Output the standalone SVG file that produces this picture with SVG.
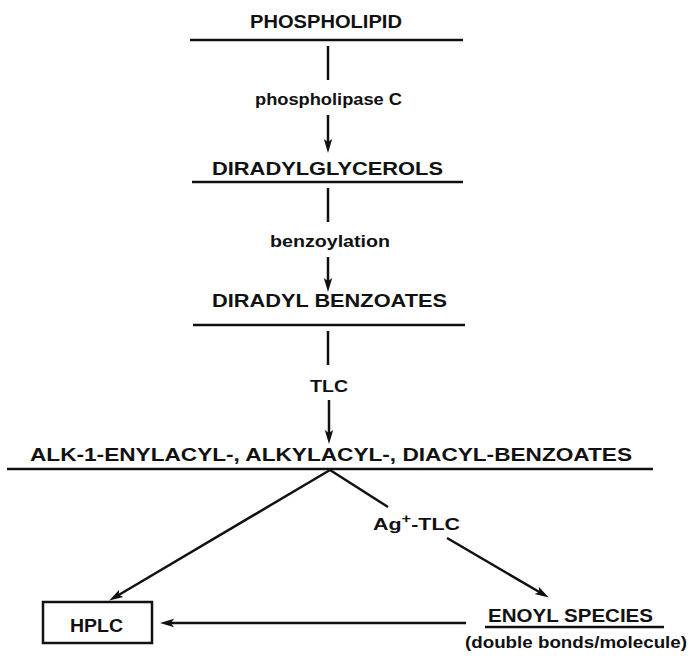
<svg xmlns="http://www.w3.org/2000/svg" width="690" height="656" viewBox="0 0 690 656">
<style>
text{font-family:"Liberation Sans",Arial,sans-serif;font-weight:bold;fill:#111;}
.big{font-size:18px;}
.small{font-size:16px;}
.ln{stroke:#111;stroke-width:2.5;fill:none;}
.arr{marker-end:url(#ah);}
</style>
<defs>
<marker id="ah" markerUnits="userSpaceOnUse" markerWidth="15" markerHeight="10" viewBox="0 0 15 10" refX="5" refY="5" orient="auto">
<path d="M0,0.8 L14,5 L0,9.2 L3,5 z" fill="#111"/>
</marker>
</defs>
<rect width="690" height="656" fill="#fff"/>
<g id="phospholipid">
<text class="big" x="250" y="28" textLength="152" lengthAdjust="spacingAndGlyphs">PHOSPHOLIPID</text>
<line class="ln" x1="190" y1="40" x2="463" y2="40"/>
</g>
<g id="diradylglycerols">
<text class="big" x="212" y="175" textLength="231" lengthAdjust="spacingAndGlyphs">DIRADYLGLYCEROLS</text>
<line class="ln" x1="192" y1="182" x2="463" y2="182"/>
</g>
<g id="diradyl-benzoates">
<text class="big" x="212" y="307" textLength="235" lengthAdjust="spacingAndGlyphs">DIRADYL BENZOATES</text>
<line class="ln" x1="193" y1="325" x2="465" y2="325"/>
</g>
<g id="benzoates-mix">
<text class="big" x="30" y="461" textLength="602" lengthAdjust="spacingAndGlyphs">ALK-1-ENYLACYL-, ALKYLACYL-, DIACYL-BENZOATES</text>
<line class="ln" x1="7" y1="469" x2="653" y2="469"/>
</g>
<g id="hplc">
<rect x="43" y="602" width="109" height="41" fill="none" stroke="#111" stroke-width="2.5"/>
<text class="big" x="70" y="632" textLength="53" lengthAdjust="spacingAndGlyphs">HPLC</text>
</g>
<g id="enoyl-species">
<text class="big" x="488" y="622" textLength="165" lengthAdjust="spacingAndGlyphs">ENOYL SPECIES</text>
<line class="ln" x1="485" y1="627" x2="664" y2="627"/>
<text class="small" x="465" y="648" textLength="222" lengthAdjust="spacingAndGlyphs">(double bonds/molecule)</text>
</g>
<g id="connectors">
<line class="ln" x1="328" y1="46" x2="328" y2="80"/>
<text class="small" x="255" y="105" textLength="147" lengthAdjust="spacingAndGlyphs">phospholipase C</text>
<line class="ln arr" x1="328" y1="115" x2="328" y2="144"/>
<line class="ln" x1="328" y1="188" x2="328" y2="222"/>
<text class="small" x="270" y="247" textLength="120" lengthAdjust="spacingAndGlyphs">benzoylation</text>
<line class="ln arr" x1="328" y1="257" x2="328" y2="283"/>
<line class="ln" x1="328" y1="331" x2="328" y2="365"/>
<text class="small" x="310" y="392" textLength="38" lengthAdjust="spacingAndGlyphs">TLC</text>
<line class="ln arr" x1="329" y1="400" x2="329" y2="435"/>
<line class="ln arr" x1="330" y1="470" x2="117" y2="596"/>
<line class="ln" x1="330" y1="470" x2="388" y2="507"/>
<text x="373" y="530" font-size="17" textLength="87" lengthAdjust="spacingAndGlyphs">Ag<tspan font-size="13" dy="-7">+</tspan><tspan dy="7">-TLC</tspan></text>
<line class="ln arr" x1="447" y1="538" x2="541" y2="593"/>
<line class="ln arr" x1="466" y1="623" x2="169" y2="623"/>
</g>
</svg>
